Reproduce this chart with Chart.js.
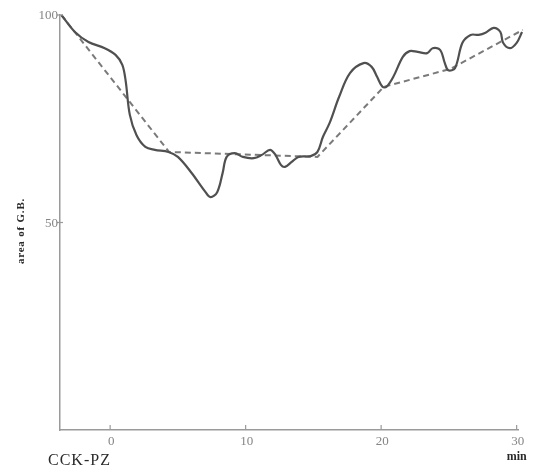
<!DOCTYPE html>
<html>
<head>
<meta charset="utf-8">
<title>Gallbladder area after CCK-PZ</title>
<script src="https://cdn.jsdelivr.net/npm/chart.js@4/dist/chart.umd.min.js"></script>
<style>
  html, body { margin: 0; padding: 0; background: #ffffff; }
  #wrap { position: relative; width: 542px; height: 469px; }
</style>
</head>
<body>
<div id="wrap"><canvas id="gb" width="542" height="469"></canvas></div>
<script>
// Measured gallbladder area (% of initial) against time (min) after CCK-PZ
const minutes = [-3.6, -2.6, -1.6, -0.4, 0.4, 0.9, 1.15, 1.45, 1.95, 2.6, 3.3, 4.3, 5.0, 6.0, 7.0, 7.4,
  7.9, 8.3, 8.6, 9.2, 9.8, 10.6, 11.2, 11.8, 12.2, 12.6, 12.9, 13.4, 13.9, 14.8, 15.3, 15.7,
  16.2, 16.9, 17.7, 18.7, 19.3, 19.7, 20.1, 20.4, 20.9, 21.6, 22.1, 22.7, 23.4, 23.8,
  24.35, 24.7, 24.95, 25.45, 26.0, 26.6, 27.2, 27.7, 28.3, 28.8, 29.0, 29.5, 30.0, 30.4];
const area = [100, 95.9, 93.5, 92.0, 90.4, 88.0, 84.0, 76.0, 71.0, 68.2, 67.5, 67.0, 65.8, 62.0, 57.5, 56.1,
  57.3, 61.9, 65.8, 66.7, 65.8, 65.5, 66.3, 67.5, 66.3, 63.9, 63.4, 64.6, 65.8, 66.0, 67.0, 70.6,
  74.0, 80.3, 86.0, 88.4, 87.5, 85.1, 82.7, 82.7, 85.1, 89.9, 91.3, 91.1, 90.8, 92.0,
  91.6, 88.4, 86.7, 87.2, 93.3, 95.2, 95.2, 95.7, 96.9, 95.9, 93.3, 92.0, 93.3, 95.9];

// Piecewise trend drawn as a dashed line
const trendMinutes = [-3.6, 4.35, 15.3, 20.2, 25.1, 30.45];
const trendArea = [100, 67.0, 65.8, 82.7, 87.0, 96.4];

// Axis ticks
const xTickValues = [0, 10, 20, 30];
const yTickValues = [50, 100];

const pts = (xs, ys) => xs.map((x, i) => ({ x: x, y: ys[i] }));

const SERIF = '"Liberation Serif", "DejaVu Serif", serif';

// Draws axis tick marks, tick labels and captions using the chart's scales
const axisDecor = {
  id: 'axisDecor',
  afterDraw(chart) {
    const ctx = chart.ctx;
    const xs = chart.scales.x, ys = chart.scales.y;
    const area0 = chart.chartArea;
    ctx.save();
    ctx.strokeStyle = '#9a9a9a';
    ctx.lineWidth = 1.2;
    ctx.fillStyle = '#858585';
    ctx.font = '13px ' + SERIF;
    ctx.textAlign = 'center';
    ctx.textBaseline = 'middle';
    xTickValues.forEach(v => {
      const px = xs.getPixelForValue(v);
      ctx.beginPath();
      ctx.moveTo(px, area0.bottom);
      ctx.lineTo(px, area0.bottom - 5);
      ctx.stroke();
      ctx.fillText(String(v), px + 1, area0.bottom + 12);
    });
    ctx.textAlign = 'right';
    yTickValues.forEach(v => {
      const py = ys.getPixelForValue(v);
      ctx.beginPath();
      ctx.moveTo(area0.left - 3, py);
      ctx.lineTo(area0.left + 3, py);
      ctx.stroke();
      ctx.fillText(String(v), area0.left - 2, py + 1);
    });

    // time origin label
    ctx.fillStyle = '#2a2a2a';
    ctx.textAlign = 'left';
    ctx.textBaseline = 'alphabetic';
    ctx.font = '16px ' + SERIF;
    if ('letterSpacing' in ctx) ctx.letterSpacing = '1px';
    ctx.fillText('CCK-PZ', 48, 465);
    if ('letterSpacing' in ctx) ctx.letterSpacing = '0px';

    // unit label
    ctx.font = 'bold 12px ' + SERIF;
    ctx.textAlign = 'center';
    ctx.fillText('min', xs.getPixelForValue(30), 460);

    // y-axis caption
    ctx.translate(21, 231);
    ctx.rotate(-Math.PI / 2);
    ctx.font = 'bold 11px ' + SERIF;
    if ('letterSpacing' in ctx) ctx.letterSpacing = '0.8px';
    ctx.textAlign = 'center';
    ctx.textBaseline = 'middle';
    ctx.fillText('area of G.B.', 0, 0);
    ctx.restore();
  }
};

new Chart(document.getElementById('gb'), {
  type: 'line',
  data: {
    datasets: [
      {
        label: 'area',
        data: pts(minutes, area),
        borderColor: '#505050',
        borderWidth: 2.2,
        pointRadius: 0,
        tension: 0.35,
        fill: false,
        clip: false
      },
      {
        label: 'trend',
        data: pts(trendMinutes, trendArea),
        borderColor: '#7a7a7a',
        borderWidth: 2,
        borderDash: [6, 4],
        pointRadius: 0,
        tension: 0,
        fill: false,
        clip: false
      }
    ]
  },
  options: {
    responsive: false,
    animation: false,
    devicePixelRatio: 1,
    layout: { padding: { left: 60, right: 24, top: 15, bottom: 39 } },
    plugins: { legend: { display: false }, tooltip: { enabled: false } },
    scales: {
      x: {
        type: 'linear',
        min: -3.7,
        max: 30.1,
        ticks: { display: false },
        grid: { display: false, drawTicks: false },
        border: { display: true, color: '#9a9a9a', width: 1.5 }
      },
      y: {
        type: 'linear',
        min: 0,
        max: 100,
        ticks: { display: false },
        grid: { display: false, drawTicks: false },
        border: { display: true, color: '#9a9a9a', width: 1.5 }
      }
    }
  },
  plugins: [axisDecor]
});
</script>
</body>
</html>
